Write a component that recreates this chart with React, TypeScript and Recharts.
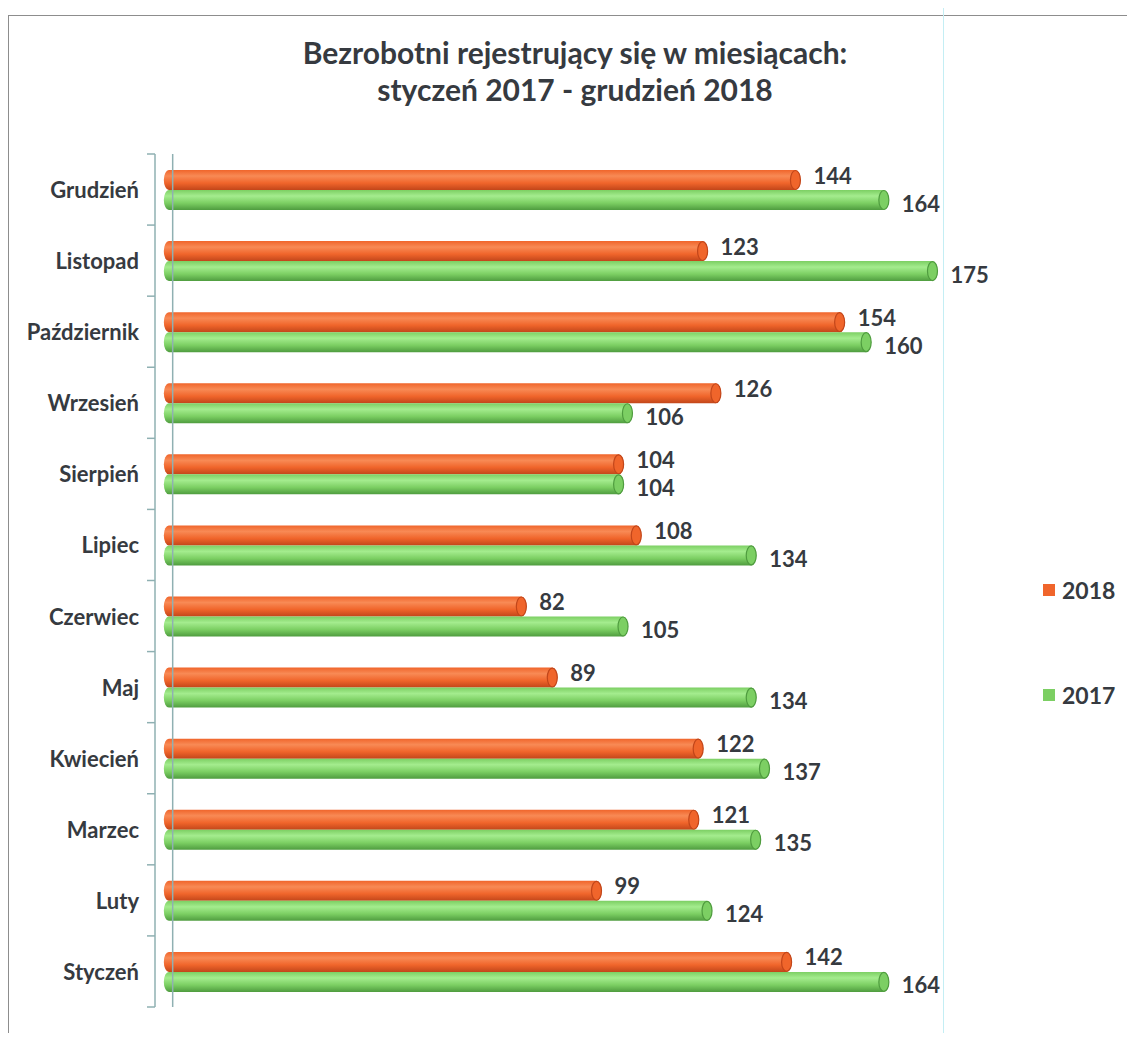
import React from 'react';
import { BarChart, Bar, XAxis, YAxis, LabelList, ReferenceLine } from 'recharts';

const months = ['Styczeń', 'Luty', 'Marzec', 'Kwiecień', 'Maj', 'Czerwiec', 'Lipiec', 'Sierpień', 'Wrzesień', 'Październik', 'Listopad', 'Grudzień'];
const values2018 = [142, 99, 121, 122, 89, 82, 108, 104, 126, 154, 123, 144];
const values2017 = [164, 124, 135, 137, 134, 105, 134, 104, 106, 160, 175, 164];
const seriesNames = ['2018', '2017'];

const data = months.map((m, i) => ({ month: m, y2018: values2018[i], y2017: values2017[i] }));

const FONT = 'Lato, "Open Sans", sans-serif';
const TEXT = '#363a40';
const AXIS = '#8fb0b2';
const AXIS_X = 147;
const PLOT_TOP = 146;
const PLOT_H = 853;
const BAND = PLOT_H / months.length;

const colors = {
  '2018': { light: '#f88a55', mid: '#f0652b', dark: '#c2461a', flat: '#f0652b' },
  '2017': { light: '#a4ec8e', mid: '#7ccf63', dark: '#4f9c3f', flat: '#7ccf63' },
};

const Cylinder = (props: any) => {
  const { x, y, width, height, series } = props;
  if (!width || width <= 0) return null;
  const c = colors[series as '2018' | '2017'];
  const rx = 5;
  const ry = height / 2;
  const d = `M${x + rx},${y} H${x + width - rx} A${rx},${ry} 0 0 1 ${x + width - rx},${y + height} H${x + rx} A${rx},${ry} 0 0 1 ${x + rx},${y} Z`;
  return (
    <g>
      <path d={d} fill={`url(#grad${series})`} />
      <ellipse cx={x + width - rx} cy={y + ry} rx={rx} ry={ry - 0.5} fill={c.mid} stroke={c.dark} strokeWidth={1.2} />
    </g>
  );
};

const valueLabel = (dy: number) => (props: any) => {
  const { x, y, width, height, value } = props;
  return (
    <text
      x={x + width + 13}
      y={y + height / 2 + dy}
      dominantBaseline="central"
      fontFamily={FONT}
      fontWeight={700}
      fontSize={22}
      fill={TEXT}
    >
      {value}
    </text>
  );
};

const MonthTick = (props: any) => {
  const { y, payload, index } = props;
  return (
    <g>
      <text x={AXIS_X - 16} y={y} textAnchor="end" dominantBaseline="central" fontFamily={FONT} fontWeight={700} fontSize={22} fill={TEXT}>
        {payload.value}
      </text>
      <line x1={AXIS_X - 8} x2={AXIS_X} y1={y - BAND / 2} y2={y - BAND / 2} stroke={AXIS} strokeWidth={1.5} />
      {index === 0 && (
        <line x1={AXIS_X - 8} x2={AXIS_X} y1={y + BAND / 2} y2={y + BAND / 2} stroke={AXIS} strokeWidth={1.5} />
      )}
    </g>
  );
};

export default function App() {
  return (
    <div style={{ position: 'relative', width: 1127, height: 1025 }}>
      <div style={{ position: 'absolute', left: 0, top: 7, right: -10, bottom: -20, borderTop: '1.5px solid #8d8d8d', borderLeft: '1.5px solid #8d8d8d' }} />
      <div style={{ position: 'absolute', left: 935, top: 0, width: 1, height: 1030, background: '#c4eef4' }} />
      <div
        style={{
          position: 'absolute',
          left: 0,
          width: 1134,
          top: 26,
          textAlign: 'center',
          fontFamily: FONT,
          fontWeight: 700,
          fontSize: 30,
          lineHeight: '37px',
          color: TEXT,
        }}
      >
        Bezrobotni rejestrujący się w miesiącach:
        <br />
        styczeń 2017 - grudzień 2018
      </div>
      <div style={{ position: 'absolute', left: 1035, top: 567, fontFamily: FONT, fontWeight: 700, fontSize: 23, color: TEXT }}>
        {seriesNames.map((s, i) => (
          <div key={s} style={{ display: 'flex', alignItems: 'center', height: 30, marginTop: i === 0 ? 0 : 75 }}>
            <span style={{ width: 12, height: 12, background: colors[s as '2018' | '2017'].flat, marginRight: 7 }} />
            {s}
          </div>
        ))}
      </div>
      <BarChart
        width={1127}
        height={1025}
        data={data}
        layout="vertical"
        margin={{ top: PLOT_TOP, right: 87, bottom: 1025 - PLOT_TOP - PLOT_H, left: 0 }}
        barSize={20}
        barGap={0}
        style={{ position: 'absolute', left: 0, top: 0 }}
      >
        <defs>
          {seriesNames.map((s) => {
            const c = colors[s as '2018' | '2017'];
            return (
              <linearGradient key={s} id={`grad${s}`} x1="0" y1="0" x2="0" y2="1">
                <stop offset="0%" stopColor={c.mid} />
                <stop offset="30%" stopColor={c.light} />
                <stop offset="65%" stopColor={c.mid} />
                <stop offset="100%" stopColor={c.dark} />
              </linearGradient>
            );
          })}
        </defs>
        <XAxis type="number" domain={[-2, 200]} hide />
        <YAxis
          type="category"
          dataKey="month"
          reversed
          width={AXIS_X}
          axisLine={{ stroke: AXIS, strokeWidth: 1.5 }}
          tickLine={false}
          tick={<MonthTick />}
          interval={0}
        />
        <ReferenceLine x={2} stroke={AXIS} strokeWidth={1.5} />
        <Bar dataKey="y2018" name="2018" isAnimationActive={false} shape={(p: any) => <Cylinder {...p} series="2018" />}>
          <LabelList dataKey="y2018" content={valueLabel(-5)} />
        </Bar>
        <Bar dataKey="y2017" name="2017" isAnimationActive={false} shape={(p: any) => <Cylinder {...p} series="2017" />}>
          <LabelList dataKey="y2017" content={valueLabel(3)} />
        </Bar>
      </BarChart>
    </div>
  );
}
